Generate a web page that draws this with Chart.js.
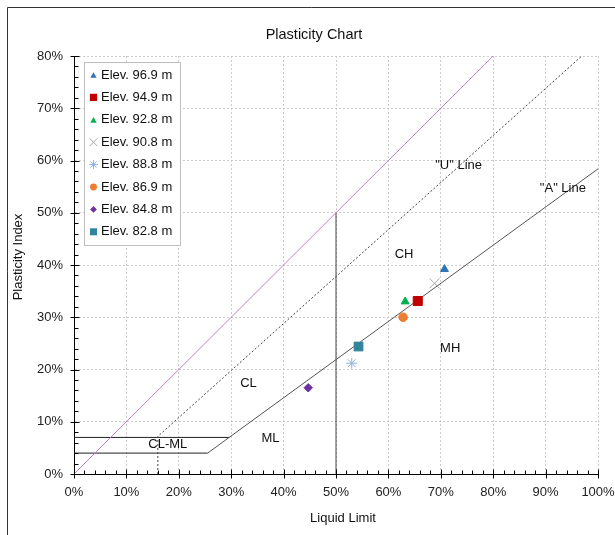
<!DOCTYPE html>
<html><head><meta charset="utf-8">
<script src="https://cdn.jsdelivr.net/npm/chart.js@4.4.0/dist/chart.umd.min.js"></script>
<style>html,body{margin:0;padding:0;background:#fff;}canvas{display:block;}</style>
</head><body>
<canvas id="c" width="615" height="535"></canvas>
<script>
// ---- data ----
const seriesLabels = ['Elev. 96.9 m','Elev. 94.9 m','Elev. 92.8 m','Elev. 90.8 m','Elev. 88.8 m','Elev. 86.9 m','Elev. 84.8 m','Elev. 82.8 m'];
const liquidLimit = [70.7, 65.6, 63.2, 68.8, 53.0, 62.8, 44.7, 54.3];
const plasticityIndex = [39.2, 33.1, 33.0, 36.5, 21.2, 30.0, 16.5, 24.4];
const xTickValues = [0,10,20,30,40,50,60,70,80,90,100];
const yTickValues = [0,10,20,30,40,50,60,70,80];
// reference lines (LL %, PI %)
const aLineLL = [25.5, 100];   const aLinePI = [4, 58.4];
const uLineLL = [16, 16, 96.9]; const uLinePI = [0, 7.2, 80];
const limitLL = [0, 80];        const limitPI = [0, 80];
const clmlLowLL = [0, 25.5];    const clmlLowPI = [4, 4];
const clmlHighLL = [0, 29.6];   const clmlHighPI = [7, 7];
const divLL = [50, 50];         const divPI = [0, 50];
// zone labels
const zoneLabels = ['CH','MH','CL','ML','CL-ML','"U" Line','"A" Line'];
const zoneLL = [63.0, 71.8, 33.3, 37.5, 17.9, 73.4, 93.3];
const zonePI = [42.1, 24.1, 17.4, 6.9, 5.6, 59.1, 54.7];

// ---- styles ----
const FONT = '"Liberation Sans", Arial, sans-serif';
const markerStyles = [
  {style:'triangle', r:4.6, color:'#2e75b6'},
  {style:'rect', r:6.4, color:'#c00000'},
  {style:'triangle', r:4.6, color:'#00b050'},
  {style:'crossRot', r:7, color:'#a6a6a6'},
  {style:'star', r:5.5, color:'#8db4e2'},
  {style:'circle', r:4.3, color:'#ed7d31'},
  {style:'rectRot', r:4.2, color:'#7030a0'},
  {style:'rect', r:6.2, color:'#31849b'}
];

const toPts = (xs, ys) => xs.map((x, i) => ({x: x, y: ys[i]}));
const pointDatasets = seriesLabels.map((lab, i) => ({
  label: lab,
  data: [{x: liquidLimit[i], y: plasticityIndex[i]}],
  pointStyle: markerStyles[i].style,
  pointRadius: markerStyles[i].r,
  pointHoverRadius: markerStyles[i].r,
  backgroundColor: markerStyles[i].color,
  borderColor: markerStyles[i].color,
  pointBorderWidth: 1,
  showLine: false,
  isMarker: true
}));
const lineDs = (lab, xs, ys, color, dash) => ({
  label: lab, data: toPts(xs, ys), showLine: true, borderColor: color, borderWidth: 1,
  borderDash: dash || [], pointRadius: 0, pointHoverRadius: 0, fill: false, tension: 0, isMarker: false
});
const lineDatasets = [
  lineDs('A', aLineLL, aLinePI, '#555555'),
  lineDs('U', uLineLL, uLinePI, '#444444', [2, 2]),
  lineDs('limit', limitLL, limitPI, '#c080c0'),
  lineDs('clml4', clmlLowLL, clmlLowPI, '#222222'),
  lineDs('clml7', clmlHighLL, clmlHighPI, '#222222'),
  lineDs('div', divLL, divPI, '#444444')
];

function drawMarker(ctx, style, x, y, r, color) {
  ctx.save();
  ctx.fillStyle = color; ctx.strokeStyle = color; ctx.lineWidth = 1;
  ctx.beginPath();
  if (style === 'triangle') {
    let a = 0;
    for (let k = 0; k < 3; k++) {
      const px = x + Math.sin(a) * r, py = y - Math.cos(a) * r;
      if (k === 0) ctx.moveTo(px, py); else ctx.lineTo(px, py);
      a += 2 * Math.PI / 3;
    }
    ctx.closePath(); ctx.fill();
  } else if (style === 'rect') {
    const s = r * Math.SQRT1_2; ctx.rect(x - s, y - s, 2 * s, 2 * s); ctx.fill();
  } else if (style === 'rectRot') {
    ctx.moveTo(x, y - r); ctx.lineTo(x + r, y); ctx.lineTo(x, y + r); ctx.lineTo(x - r, y); ctx.closePath(); ctx.fill();
  } else if (style === 'circle') {
    ctx.arc(x, y, r, 0, Math.PI * 2); ctx.fill();
  } else if (style === 'crossRot') {
    const o = r * Math.SQRT1_2;
    ctx.moveTo(x - o, y - o); ctx.lineTo(x + o, y + o); ctx.moveTo(x - o, y + o); ctx.lineTo(x + o, y - o); ctx.stroke();
  } else if (style === 'star') {
    const o = r * Math.SQRT1_2;
    ctx.moveTo(x, y - r); ctx.lineTo(x, y + r); ctx.moveTo(x - r, y); ctx.lineTo(x + r, y);
    ctx.moveTo(x - o, y - o); ctx.lineTo(x + o, y + o); ctx.moveTo(x - o, y + o); ctx.lineTo(x + o, y - o); ctx.stroke();
  }
  ctx.restore();
}

const decorPlugin = {
  id: 'decor',
  beforeDraw(chart) {
    const ctx = chart.ctx;
    ctx.save();
    ctx.strokeStyle = '#333'; ctx.lineWidth = 1;
    ctx.beginPath(); ctx.moveTo(7.5, 535); ctx.lineTo(7.5, 7.5); ctx.lineTo(615, 7.5); ctx.stroke();
    ctx.restore();
  },
  afterDraw(chart) {
    const ctx = chart.ctx, xs = chart.scales.x, ys = chart.scales.y;
    const ca = chart.chartArea;
    ctx.save();
    // tick marks
    ctx.strokeStyle = '#000'; ctx.lineWidth = 1;
    ctx.beginPath();
    const xl = Math.round(ca.left) + 0.5, yb = Math.round(ca.bottom) + 0.5;
    for (let v = 0; v <= 80; v += 2) {
      const py = Math.round(ys.getPixelForValue(v)) + 0.5;
      if (v % 10 === 0) { ctx.moveTo(xl - 4, py); ctx.lineTo(xl + 5, py); }
      else { ctx.moveTo(xl, py); ctx.lineTo(xl + 4, py); }
    }
    for (let v = 0; v <= 100; v += 2) {
      const px = Math.round(xs.getPixelForValue(v)) + 0.5;
      if (v % 10 === 0) { ctx.moveTo(px, yb - 5); ctx.lineTo(px, yb + 4); }
      else { ctx.moveTo(px, yb - 4); ctx.lineTo(px, yb); }
    }
    ctx.stroke();
    // zone labels
    ctx.fillStyle = '#111'; ctx.font = '13px ' + FONT; ctx.textAlign = 'center'; ctx.textBaseline = 'middle';
    zoneLabels.forEach((t, i) => ctx.fillText(t, xs.getPixelForValue(zoneLL[i]), ys.getPixelForValue(zonePI[i])));
    // titles
    ctx.fillStyle = '#111';
    ctx.font = '14.5px ' + FONT;
    ctx.fillText('Plasticity Chart', 314, 35);
    ctx.font = '13px ' + FONT;
    ctx.fillText('Liquid Limit', 343, 518);
    ctx.save(); ctx.translate(18.5, 257); ctx.rotate(-Math.PI / 2); ctx.fillText('Plasticity Index', 0, 0); ctx.restore();
    // legend
    ctx.fillStyle = '#fff'; ctx.strokeStyle = '#bfbfbf';
    ctx.fillRect(84.5, 62.5, 96, 183); ctx.strokeRect(84.5, 62.5, 96, 183);
    ctx.textAlign = 'left'; ctx.fillStyle = '#111'; ctx.font = '13px ' + FONT;
    let ly = 75;
    chart.data.datasets.forEach((ds, i) => {
      if (!ds.isMarker) return;
      const m = markerStyles[i];
      drawMarker(ctx, m.style, 93.5, ly + (m.style === 'triangle' ? 1 : 0), m.r * 0.8, m.color);
      ctx.fillStyle = '#111';
      ctx.fillText(ds.label, 101, ly);
      ly += 22.4;
    });
    ctx.restore();
  }
};

const gridOpts = {color: '#cccccc', lineWidth: 1, drawTicks: false};
new Chart(document.getElementById('c'), {
  type: 'scatter',
  data: {datasets: pointDatasets.concat(lineDatasets)},
  options: {
    responsive: false, animation: false, devicePixelRatio: 1,
    layout: {padding: {top: 56, right: 17, left: 0, bottom: 0}},
    plugins: {legend: {display: false}, title: {display: false}, tooltip: {enabled: false}},
    scales: {
      x: {
        type: 'linear', min: 0, max: 100,
        afterBuildTicks: s => { s.ticks = xTickValues.map(v => ({value: v})); },
        afterFit: s => { s.height = 61; s.paddingLeft = 0; s.paddingRight = 0; },
        ticks: {callback: v => v + '%', font: {family: FONT, size: 13}, color: '#222', padding: 11, maxRotation: 0, autoSkip: false},
        grid: gridOpts,
        border: {display: true, color: '#000', width: 1, dash: [2, 2]}
      },
      y: {
        type: 'linear', min: 0, max: 80,
        afterBuildTicks: s => { s.ticks = yTickValues.map(v => ({value: v})); },
        afterFit: s => { s.width = 74; s.paddingTop = 0; s.paddingBottom = 0; },
        ticks: {callback: v => v + '%', font: {family: FONT, size: 13}, color: '#222', padding: 11, autoSkip: false},
        grid: gridOpts,
        border: {display: true, color: '#000', width: 1, dash: [2, 2]}
      }
    }
  },
  plugins: [decorPlugin]
});
</script>
</body></html>
